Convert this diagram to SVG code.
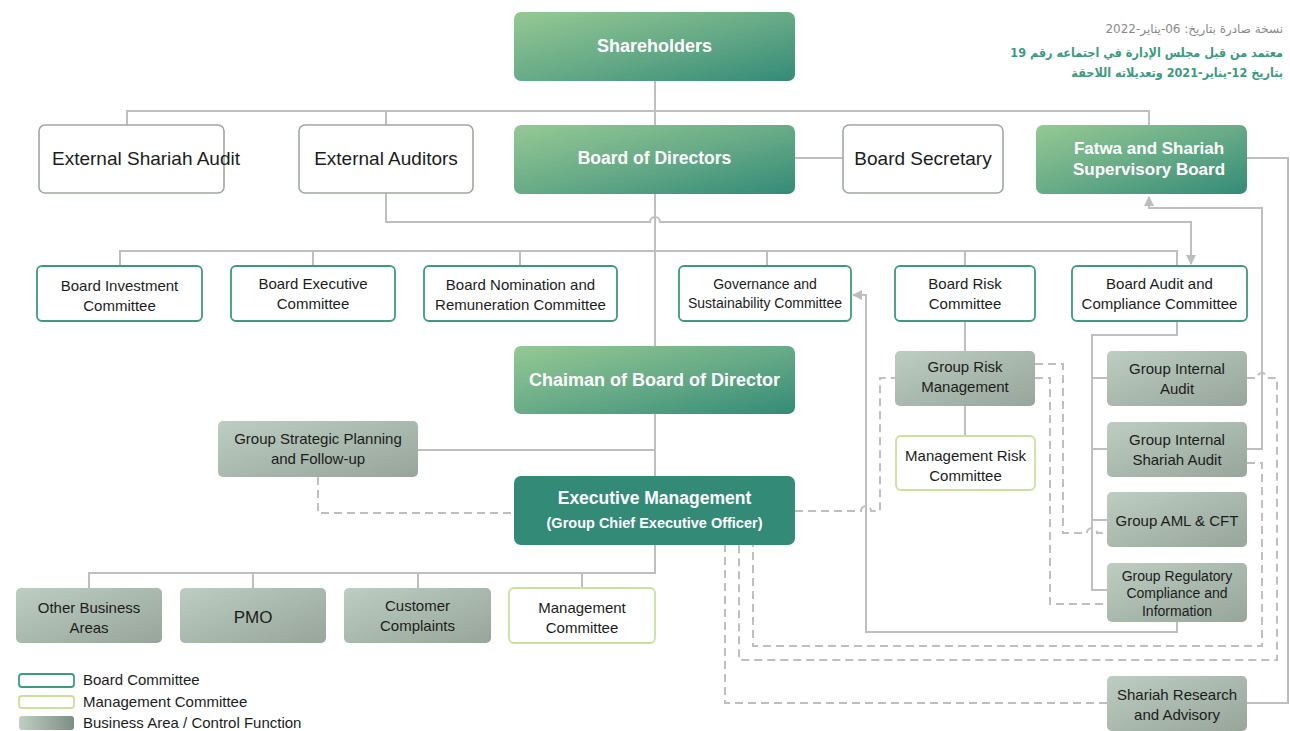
<svg xmlns="http://www.w3.org/2000/svg" width="1290" height="731" viewBox="0 0 1290 731">
  <defs>
    <linearGradient id="gGreen" x1="0" y1="0" x2="1" y2="1">
      <stop offset="0" stop-color="#95c993"/>
      <stop offset="0.55" stop-color="#63a886"/>
      <stop offset="1" stop-color="#338b77"/>
    </linearGradient>
    <linearGradient id="gGray" x1="0" y1="0" x2="1" y2="1">
      <stop offset="0" stop-color="#bdcdc1"/>
      <stop offset="1" stop-color="#97a59b"/>
    </linearGradient>
    <linearGradient id="gGrayLegend" x1="0" y1="0" x2="1" y2="0">
      <stop offset="0" stop-color="#c0cfc4"/>
      <stop offset="1" stop-color="#7f8e85"/>
    </linearGradient>
    <marker id="arrow" viewBox="0 0 10 10" refX="9" refY="5" markerWidth="5" markerHeight="5" orient="auto" markerUnits="strokeWidth">
      <path d="M0,0 L10,5 L0,10 Z" fill="#bdbdbd"/>
    </marker>
    <style>
      text { font-family: "Liberation Sans", Arial, sans-serif; text-anchor: middle; fill: #1c1c1c; }
      .green { fill: url(#gGreen); }
      .exec { fill: #338b77; }
      .gray { fill: url(#gGray); }
      .plain { fill: #ffffff; stroke: #9ea89f; stroke-width: 1.6; }
      .board { fill: #ffffff; stroke: #3d9a80; stroke-width: 1.8; }
      .mgmt { fill: #ffffff; stroke: #c9e19c; stroke-width: 1.8; }
      .wt { fill: #ffffff; font-weight: bold; }
      .big { font-size: 19px; }
      .cm { font-size: 15px; }
      .sm { font-size: 14px; }
      .ln { fill: none; stroke: #bfbfbf; stroke-width: 2; }
      .ds { fill: none; stroke: #bfbfbf; stroke-width: 2; stroke-dasharray: 8 5; }
      .ar { font-family: "DejaVu Sans", sans-serif; font-size: 12px; }
      .arb { font-family: "DejaVu Sans Condensed", "DejaVu Sans", sans-serif; font-size: 12.5px; font-weight: bold; fill: #3d9a80; }
    </style>
  </defs>

  <!-- connectors -->
  <g id="connectors">
    <!-- shareholders to top row -->
    <path class="ln" d="M655,81 V125"/>
    <path class="ln" d="M127,125 V111 H1149 V125"/>
    <path class="ln" d="M386,111 V125"/>
    <!-- board of directors to secretary -->
    <path class="ln" d="M795,158 H843"/>
    <!-- fatwa board to shariah research -->
    <path class="ln" d="M1247,158 H1288 V703 H1247"/>
    <!-- board spine down to executive management -->
    <path class="ln" d="M655,194 V346"/>
    <path class="ln" d="M655,414 V476"/>
    <!-- external auditors to audit committee -->
    <path class="ln" d="M386,193 V222 H650 A5,5 0 0 1 660,222 H1191 V264" marker-end="url(#arrow)"/>
    <!-- committee bus -->
    <path class="ln" d="M120,266 V251 H1177 V266"/>
    <path class="ln" d="M313,251 V266"/>
    <path class="ln" d="M520,251 V266"/>
    <path class="ln" d="M767,251 V266"/>
    <path class="ln" d="M965,251 V266"/>
    <!-- risk chain -->
    <path class="ln" d="M965,321 V351"/>
    <path class="ln" d="M965,406 V436"/>
    <!-- audit committee to control functions -->
    <path class="ln" d="M1177,321 V335 H1092 V590 H1107"/>
    <path class="ln" d="M1092,378 H1107"/>
    <path class="ln" d="M1092,449 H1107"/>
    <path class="ln" d="M1092,520 H1107"/>
    <!-- internal shariah audit to fatwa board -->
    <path class="ln" d="M1247,449 H1262 V208 H1149 V197" marker-end="url(#arrow)"/>
    <!-- regulatory compliance to governance committee -->
    <path class="ln" d="M1177,622 V632 H866 V295 H853" marker-end="url(#arrow)"/>
    <!-- chairman to strategic planning -->
    <path class="ln" d="M418,450 H655"/>
    <!-- executive management to business areas -->
    <path class="ln" d="M655,545 V573 H89 V588"/>
    <path class="ln" d="M253,573 V588"/>
    <path class="ln" d="M418,573 V588"/>
    <path class="ln" d="M582,573 V588"/>

    <!-- dotted reporting lines -->
    <path class="ds" d="M318,477 V513 H514"/>
    <path class="ds" d="M795,511 H861 A5,5 0 0 1 871,511 H880 V378 H895"/>
    <path class="ds" d="M1035,364 H1063 V533 H1087 A5,5 0 0 1 1097,533 H1107"/>
    <path class="ds" d="M1035,378 H1050 V604 H1107"/>
    <path class="ds" d="M1247,378 H1257 A5,5 0 0 1 1267,378 H1277 V660 H739 V545"/>
    <path class="ds" d="M1247,463 H1262 V646 H753 V545"/>
    <path class="ds" d="M1107,703 H725 V545"/>
  </g>

  <!-- top level -->
  <g id="shareholders">
    <rect class="green" x="514" y="12" width="281" height="69" rx="7"/>
    <text class="wt" x="654.5" y="52" font-size="18">Shareholders</text>
  </g>
  <g id="external-shariah-audit">
    <rect class="plain" x="39" y="125" width="185" height="68" rx="6"/>
    <text class="big" x="146" y="165">External Shariah Audit</text>
  </g>
  <g id="external-auditors">
    <rect class="plain" x="299" y="125" width="174" height="68" rx="6"/>
    <text class="big" x="386" y="165">External Auditors</text>
  </g>
  <g id="board-of-directors">
    <rect class="green" x="514" y="125" width="281" height="69" rx="7"/>
    <text class="wt" x="654.5" y="164" font-size="17.5">Board of Directors</text>
  </g>
  <g id="board-secretary">
    <rect class="plain" x="843" y="125" width="160" height="68" rx="6"/>
    <text class="big" x="923" y="165">Board Secretary</text>
  </g>
  <g id="fatwa-board">
    <rect class="green" x="1036" y="125" width="211" height="69" rx="7"/>
    <text class="wt" x="1149" y="154" font-size="17">Fatwa and Shariah</text>
    <text class="wt" x="1149" y="175" font-size="17">Supervisory Board</text>
  </g>

  <!-- board committees -->
  <g id="board-investment-committee">
    <rect class="board" x="37" y="266" width="165" height="55" rx="5"/>
    <text class="cm" x="119.5" y="291">Board Investment</text>
    <text class="cm" x="119.5" y="311">Committee</text>
  </g>
  <g id="board-executive-committee">
    <rect class="board" x="231" y="266" width="164" height="55" rx="5"/>
    <text class="cm" x="313" y="289">Board Executive</text>
    <text class="cm" x="313" y="309">Committee</text>
  </g>
  <g id="board-nomination-committee">
    <rect class="board" x="424" y="266" width="193" height="55" rx="5"/>
    <text class="cm" x="520.5" y="290">Board Nomination and</text>
    <text class="cm" x="520.5" y="310">Remuneration Committee</text>
  </g>
  <g id="governance-committee">
    <rect class="board" x="679" y="266" width="172" height="55" rx="5"/>
    <text class="sm" x="765" y="289">Governance and</text>
    <text class="sm" x="765" y="308">Sustainability Committee</text>
  </g>
  <g id="board-risk-committee">
    <rect class="board" x="895" y="266" width="140" height="55" rx="5"/>
    <text class="cm" x="965" y="289">Board Risk</text>
    <text class="cm" x="965" y="309">Committee</text>
  </g>
  <g id="board-audit-committee">
    <rect class="board" x="1072" y="266" width="175" height="55" rx="5"/>
    <text class="cm" x="1159.5" y="289">Board Audit and</text>
    <text class="cm" x="1159.5" y="309">Compliance Committee</text>
  </g>

  <!-- chairman and executive -->
  <g id="chairman">
    <rect class="green" x="514" y="346" width="281" height="68" rx="7"/>
    <text class="wt" x="654.5" y="386" font-size="18">Chaiman of Board of Director</text>
  </g>
  <g id="strategic-planning">
    <rect class="gray" x="218" y="421" width="200" height="56" rx="5"/>
    <text class="cm" x="318" y="444">Group Strategic Planning</text>
    <text class="cm" x="318" y="464">and Follow-up</text>
  </g>
  <g id="executive-management">
    <rect class="exec" x="514" y="476" width="281" height="69" rx="7"/>
    <text class="wt" x="654.5" y="504" font-size="17.5">Executive Management</text>
    <text class="wt" x="654.5" y="528" font-size="14.5">(Group Chief Executive Officer)</text>
  </g>

  <!-- risk -->
  <g id="group-risk-management">
    <rect class="gray" x="895" y="351" width="140" height="55" rx="5"/>
    <text class="cm" x="965" y="372">Group Risk</text>
    <text class="cm" x="965" y="392">Management</text>
  </g>
  <g id="management-risk-committee">
    <rect class="mgmt" x="896" y="436" width="139" height="54" rx="5"/>
    <text class="cm" x="965.5" y="461">Management Risk</text>
    <text class="cm" x="965.5" y="481">Committee</text>
  </g>

  <!-- control functions -->
  <g id="group-internal-audit">
    <rect class="gray" x="1107" y="351" width="140" height="55" rx="5"/>
    <text class="cm" x="1177" y="374">Group Internal</text>
    <text class="cm" x="1177" y="394">Audit</text>
  </g>
  <g id="group-internal-shariah-audit">
    <rect class="gray" x="1107" y="422" width="140" height="55" rx="5"/>
    <text class="cm" x="1177" y="445">Group Internal</text>
    <text class="cm" x="1177" y="465">Shariah Audit</text>
  </g>
  <g id="group-aml-cft">
    <rect class="gray" x="1107" y="492" width="140" height="55" rx="5"/>
    <text class="cm" x="1177" y="526">Group AML &amp; CFT</text>
  </g>
  <g id="group-regulatory-compliance">
    <rect class="gray" x="1107" y="563" width="140" height="59" rx="5"/>
    <text class="sm" x="1177" y="581">Group Regulatory</text>
    <text class="sm" x="1177" y="598">Compliance and</text>
    <text class="sm" x="1177" y="616">Information</text>
  </g>
  <g id="shariah-research">
    <rect class="gray" x="1107" y="676" width="140" height="55" rx="5"/>
    <text class="cm" x="1177" y="700">Shariah Research</text>
    <text class="cm" x="1177" y="720">and Advisory</text>
  </g>

  <!-- business areas -->
  <g id="other-business-areas">
    <rect class="gray" x="16" y="588" width="146" height="55" rx="5"/>
    <text class="cm" x="89" y="613">Other Business</text>
    <text class="cm" x="89" y="633">Areas</text>
  </g>
  <g id="pmo">
    <rect class="gray" x="180" y="588" width="146" height="55" rx="5"/>
    <text x="253" y="623" font-size="17">PMO</text>
  </g>
  <g id="customer-complaints">
    <rect class="gray" x="344" y="588" width="147" height="55" rx="5"/>
    <text class="cm" x="417.5" y="611">Customer</text>
    <text class="cm" x="417.5" y="631">Complaints</text>
  </g>
  <g id="management-committee">
    <rect class="mgmt" x="509" y="588" width="146" height="55" rx="5"/>
    <text class="cm" x="582" y="613">Management</text>
    <text class="cm" x="582" y="633">Committee</text>
  </g>

  <!-- legend -->
  <g id="legend">
    <rect class="board" x="19" y="674" width="55" height="13" rx="3"/>
    <text class="cm" x="83" y="685" style="text-anchor:start">Board Committee</text>
    <rect class="mgmt" x="19" y="696" width="55" height="12" rx="3"/>
    <text class="cm" x="83" y="707" style="text-anchor:start">Management Committee</text>
    <rect x="19" y="716" width="55" height="14" rx="3" fill="url(#gGrayLegend)"/>
    <text class="cm" x="83" y="728" style="text-anchor:start">Business Area / Control Function</text>
  </g>

  <!-- approval note -->
  <g id="approval-note">
    <text class="ar" x="1283" y="33" direction="rtl" style="text-anchor:start; fill:#8a8a8a">نسخة صادرة بتاريخ: 06-يناير-2022</text>
    <text class="arb" x="1283" y="57" direction="rtl" style="text-anchor:start">معتمد من قبل مجلس الإدارة في اجتماعه رقم 19</text>
    <text class="arb" x="1283" y="77" direction="rtl" style="text-anchor:start">بتاريخ 12-يناير-2021 وتعديلاته اللاحقة</text>
  </g>
</svg>
